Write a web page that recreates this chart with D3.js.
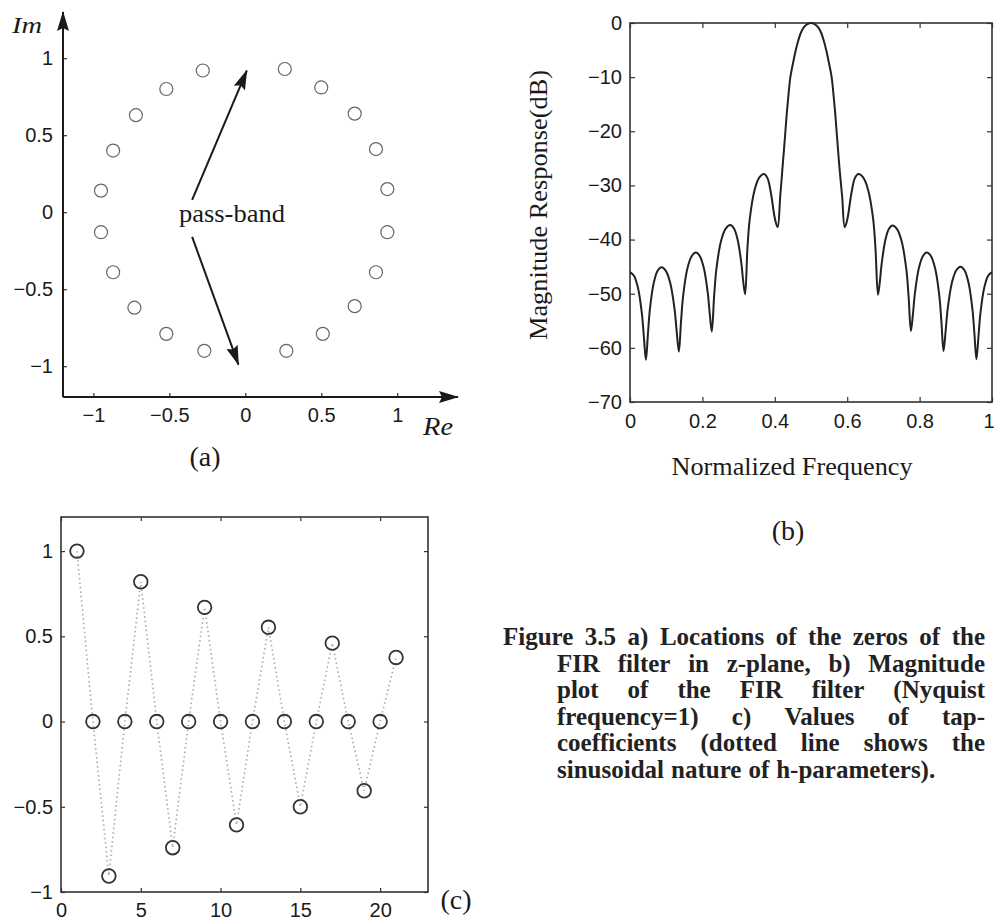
<!DOCTYPE html>
<html><head><meta charset="utf-8">
<script src="https://cdn.jsdelivr.net/npm/d3@7"></script>
<style>
html,body{margin:0;padding:0;background:#fff;}
svg{display:block;}
.tick text{font-family:"Liberation Sans",Arial,sans-serif;font-size:20px;fill:#1a1a1a;}
.tick line{stroke:#333;stroke-width:1.2;}
</style></head>
<body>
<svg id="fig" width="995" height="920"></svg>
<script>
// ---------- DATA ----------
// (a) zeros of the FIR filter in the z-plane
const zeroRe = [-0.28,-0.52,-0.72,-0.87,-0.95,-0.95,-0.87,-0.73,-0.52,-0.27,
                 0.26, 0.50, 0.72, 0.86, 0.935,0.935,0.86, 0.72, 0.51, 0.27];
const zeroIm = [ 0.92, 0.80, 0.63, 0.40, 0.14,-0.13,-0.39,-0.62,-0.79,-0.90,
                 0.93, 0.81, 0.64, 0.41, 0.15,-0.13,-0.39,-0.61,-0.79,-0.90];
const ticksA = [-1,-0.5,0,0.5,1];
// pass-band annotation arrows (data units): start -> tip
const arrowFromRe = [-0.35,-0.35];
const arrowFromIm = [0.08,-0.16];
const arrowToRe = [0.01,-0.045];
const arrowToIm = [0.92,-0.99];

// (b) magnitude response
const freq = [0.000,0.011,0.022,0.033,0.0385,0.044,0.0494,0.0548,0.0655,0.0763,0.087,
  0.099,0.111,0.123,0.129,0.135,0.1409,0.1468,0.1585,0.1703,0.182,
  0.193,0.204,0.215,0.2205,0.226,0.2324,0.2388,0.2515,0.2643,0.277,
  0.2873,0.2975,0.3078,0.3129,0.318,0.3245,0.331,0.344,0.357,0.370,
  0.3795,0.389,0.3985,0.403,0.408,0.415,0.421,0.427,0.433,0.4375,0.443,0.451,0.458,0.465,0.472,0.480,0.490,
  0.500,
  0.510,0.520,0.528,0.535,0.542,0.549,0.557,0.5625,0.567,0.573,0.579,0.586,0.593,
  0.598,0.6025,0.612,0.6215,0.631,0.6445,0.658,0.6715,0.678,0.685,
  0.690,0.695,0.705,0.715,0.725,0.7378,0.7505,0.7633,0.7696,0.776,
  0.7815,0.787,0.798,0.809,0.820,0.8315,0.843,0.8545,0.8603,0.866,
  0.8719,0.8778,0.8895,0.9013,0.913,0.924,0.935,0.946,0.9515,0.957,
  0.9624,0.9678,0.9785,0.9893,1.000];
const magDb = [-46.0,-46.67,-48.91,-53.78,-58.13,-62.2,-57.55,-52.98,-48.03,-45.77,-45.1,
  -45.77,-47.99,-52.80,-57.0,-60.7,-55.21,-50.39,-45.35,-43.07,-42.4,
  -43.07,-45.26,-49.95,-53.86,-57.0,-50.45,-45.38,-40.26,-37.97,-37.3,
  -37.95,-40.09,-44.49,-47.83,-50.1,-41.48,-36.10,-30.88,-28.57,-27.9,
  -28.6,-31.3,-35.5,-36.9,-37.7,-32.0,-27.0,-22.0,-16.8,-13.5,-10.0,-7.2,-5.0,-3.2,-1.8,-0.8,-0.2,
  0.0,
  -0.2,-0.8,-1.8,-3.2,-5.0,-7.2,-10.0,-13.5,-16.8,-22.0,-27.0,-32.0,-37.7,
  -36.9,-35.5,-31.3,-28.6,-27.9,-28.57,-30.88,-36.1,-41.5,-50.2,
  -47.9,-44.6,-40.2,-38.05,-37.4,-38.07,-40.36,-45.46,-50.5,-56.9,
  -53.85,-49.95,-45.26,-43.07,-42.4,-43.07,-45.35,-50.38,-55.2,-60.6,
  -56.9,-52.7,-47.89,-45.67,-45.0,-45.67,-47.93,-52.88,-57.45,-62.1,
  -58.1,-53.75,-48.9,-46.67,-46.0];
const xTicksB = [0,0.2,0.4,0.6,0.8,1];
const yTicksB = [0,-10,-20,-30,-40,-50,-60,-70];

// (c) tap coefficients
const tapIndex = [1,2,3,4,5,6,7,8,9,10,11,12,13,14,15,16,17,18,19,20,21];
const tapValue = [1.0,0,-0.906,0,0.82,0,-0.74,0,0.67,0,-0.606,0,0.553,0,-0.5,0,0.46,0,-0.406,0,0.376];
const xTicksC = [0,5,10,15,20];
const yTicksC = [-1,-0.5,0,0.5,1];

const captionLines = [
  "Figure 3.5 a) Locations of the zeros of the",
  "FIR filter in z-plane, b) Magnitude",
  "plot of the FIR filter (Nyquist",
  "frequency=1) c) Values of tap-",
  "coefficients (dotted line shows the",
  "sinusoidal nature of h-parameters)."
];

// ---------- DRAW ----------
const svg = d3.select("#fig");
const ink = "#1a1a1a";
const serif = '"Liberation Serif","Times New Roman",serif';
const fmt = v => (v < 0 ? "\u2212" : "") + Math.abs(v);

const defs = svg.append("defs");
defs.append("marker").attr("id","arr").attr("markerUnits","userSpaceOnUse")
  .attr("markerWidth",20).attr("markerHeight",12).attr("refX",19).attr("refY",6)
  .attr("orient","auto")
  .append("path").attr("d","M0,0 L20,6 L0,12 L3,6 Z").attr("fill",ink);

// ===== Panel (a) =====
const xa = d3.scaleLinear().domain([-1.2,1.4]).range([63,458]);
const ya = d3.scaleLinear().domain([-1.2,1.3]).range([397,12]);
const ga = svg.append("g");
ga.append("g").attr("transform",`translate(${xa(-1.2)},0)`)
  .call(d3.axisLeft(ya).tickValues(ticksA).tickFormat(fmt).tickSizeInner(-4).tickSizeOuter(0).tickPadding(10))
  .call(g=>g.select(".domain").remove());
ga.append("g").attr("transform",`translate(0,${ya(-1.2)})`)
  .call(d3.axisBottom(xa).tickValues(ticksA).tickFormat(fmt).tickSizeInner(-4).tickSizeOuter(0).tickPadding(11))
  .call(g=>g.select(".domain").remove());
// axes with arrows
ga.append("line").attr("x1",xa(-1.2)).attr("y1",ya(-1.2)).attr("x2",xa(-1.2)).attr("y2",ya(1.3))
  .attr("stroke",ink).attr("stroke-width",2).attr("marker-end","url(#arr)");
ga.append("line").attr("x1",xa(-1.2)).attr("y1",ya(-1.2)).attr("x2",xa(1.4)).attr("y2",ya(-1.2))
  .attr("stroke",ink).attr("stroke-width",2).attr("marker-end","url(#arr)");
// zeros
ga.selectAll("circle.z").data(zeroRe.map((r,i)=>[r,zeroIm[i]])).join("circle")
  .attr("class","z").attr("cx",d=>xa(d[0])).attr("cy",d=>ya(d[1])).attr("r",6.5)
  .attr("fill","none").attr("stroke","#666").attr("stroke-width",1.2);
// pass-band arrows
arrowFromRe.forEach((r,i)=>{
  ga.append("line").attr("x1",xa(r)).attr("y1",ya(arrowFromIm[i]))
    .attr("x2",xa(arrowToRe[i])).attr("y2",ya(arrowToIm[i]))
    .attr("stroke",ink).attr("stroke-width",2).attr("marker-end","url(#arr)");
});
ga.append("text").attr("x",xa(-0.088)).attr("y",ya(-0.064)).attr("text-anchor","middle")
  .attr("font-family",serif).attr("font-size",26).attr("fill",ink)
  .attr("textLength",106).attr("lengthAdjust","spacingAndGlyphs").text("pass-band");
ga.append("text").attr("x",12).attr("y",33).attr("font-family",serif).attr("font-style","italic")
  .attr("font-size",24).attr("fill",ink).attr("textLength",30).attr("lengthAdjust","spacingAndGlyphs").text("Im");
ga.append("text").attr("x",423).attr("y",435).attr("font-family",serif).attr("font-style","italic")
  .attr("font-size",26).attr("fill",ink).attr("textLength",30).attr("lengthAdjust","spacingAndGlyphs").text("Re");
ga.append("text").attr("x",205).attr("y",466).attr("text-anchor","middle").attr("font-family",serif)
  .attr("font-size",28).attr("fill",ink).text("(a)");

// ===== Panel (b) =====
const xb = d3.scaleLinear().domain([0,1]).range([630,992]);
const yb = d3.scaleLinear().domain([-70,0]).range([402,23]);
const gb = svg.append("g");
const noDom = g=>g.select(".domain").remove();
gb.append("g").attr("transform",`translate(${xb(0)},0)`)
  .call(d3.axisLeft(yb).tickValues(yTicksB).tickFormat(fmt).tickSizeInner(-5).tickSizeOuter(0).tickPadding(8)).call(noDom);
gb.append("g").attr("transform",`translate(${xb(1)},0)`)
  .call(d3.axisRight(yb).tickValues(yTicksB).tickFormat("").tickSizeInner(-5).tickSizeOuter(0)).call(noDom);
gb.append("g").attr("transform",`translate(0,${yb(-70)})`)
  .call(d3.axisBottom(xb).tickValues(xTicksB).tickFormat(fmt).tickSizeInner(-5).tickSizeOuter(0).tickPadding(12)).call(noDom)
  .call(g=>g.selectAll(".tick").filter(d=>d===1).select("text").attr("text-anchor","end").attr("dx","0.1em"));
gb.append("g").attr("transform",`translate(0,${yb(0)})`)
  .call(d3.axisTop(xb).tickValues(xTicksB).tickFormat("").tickSizeInner(-5).tickSizeOuter(0)).call(noDom);
gb.append("rect").attr("x",xb(0)).attr("y",yb(0)).attr("width",xb(1)-xb(0)).attr("height",yb(-70)-yb(0))
  .attr("fill","none").attr("stroke","#333").attr("stroke-width",1.6);
const lineB = d3.line().x(d=>xb(d[0])).y(d=>yb(d[1])).curve(d3.curveCatmullRom.alpha(0.5));
gb.append("path").datum(freq.map((f,i)=>[f,magDb[i]])).attr("d",lineB)
  .attr("fill","none").attr("stroke","#222").attr("stroke-width",2);
gb.append("text").attr("transform","translate(547,205) rotate(-90)").attr("text-anchor","middle")
  .attr("font-family",serif).attr("font-size",26).attr("fill",ink)
  .attr("textLength",270).attr("lengthAdjust","spacingAndGlyphs").text("Magnitude Response(dB)");
gb.append("text").attr("x",792).attr("y",475).attr("text-anchor","middle")
  .attr("font-family",serif).attr("font-size",26).attr("fill",ink)
  .attr("textLength",241).attr("lengthAdjust","spacingAndGlyphs").text("Normalized Frequency");
gb.append("text").attr("x",788).attr("y",540).attr("text-anchor","middle")
  .attr("font-family",serif).attr("font-size",28).attr("fill",ink).text("(b)");

// ===== Panel (c) =====
const xc = d3.scaleLinear().domain([0,23]).range([61,428]);
const yc = d3.scaleLinear().domain([-1,1.2]).range([892,517]);
const gc = svg.append("g");
gc.append("g").attr("transform",`translate(${xc(0)},0)`)
  .call(d3.axisLeft(yc).tickValues(yTicksC).tickFormat(fmt).tickSizeInner(-4).tickSizeOuter(0).tickPadding(8)).call(noDom);
gc.append("g").attr("transform",`translate(${xc(23)},0)`)
  .call(d3.axisRight(yc).tickValues(yTicksC).tickFormat("").tickSizeInner(-4).tickSizeOuter(0)).call(noDom);
gc.append("g").attr("transform",`translate(0,${yc(-1)})`)
  .call(d3.axisBottom(xc).tickValues(xTicksC).tickFormat(fmt).tickSizeInner(-4).tickSizeOuter(0).tickPadding(11)).call(noDom);
gc.append("g").attr("transform",`translate(0,${yc(1.2)})`)
  .call(d3.axisTop(xc).tickValues(xTicksC).tickFormat("").tickSizeInner(-4).tickSizeOuter(0)).call(noDom);
gc.append("rect").attr("x",xc(0)).attr("y",yc(1.2)).attr("width",xc(23)-xc(0)).attr("height",yc(-1)-yc(1.2))
  .attr("fill","none").attr("stroke","#333").attr("stroke-width",1.6);
const taps = tapIndex.map((n,i)=>[n,tapValue[i]]);
gc.append("path").datum(taps).attr("d",d3.line().x(d=>xc(d[0])).y(d=>yc(d[1])))
  .attr("fill","none").attr("stroke","#a8a8a8").attr("stroke-width",1.6).attr("stroke-dasharray","1.5,3");
gc.selectAll("circle.t").data(taps).join("circle").attr("class","t")
  .attr("cx",d=>xc(d[0])).attr("cy",d=>yc(d[1])).attr("r",6.8)
  .attr("fill","none").attr("stroke","#333").attr("stroke-width",1.8);
gc.append("text").attr("x",456).attr("y",909).attr("text-anchor","middle").attr("font-family",serif)
  .attr("font-size",28).attr("fill",ink).text("(c)");

// ===== Caption (justified) =====
const gcap = svg.append("g").attr("font-family",serif).attr("font-weight","bold")
  .attr("font-size",25).attr("fill","#222");
const lineStarts = [503,557,557,557,557,557];
const lineRight = 985;
captionLines.forEach((ln,i)=>{
  const y = 645 + i*26.5;
  const words = ln.split(" ");
  const nodes = words.map(w=>gcap.append("text").attr("y",y).text(w));
  const widths = nodes.map(n=>n.node().getComputedTextLength());
  const sum = d3.sum(widths);
  const last = i === captionLines.length-1;
  const gap = last ? 7 : (lineRight - lineStarts[i] - sum)/(words.length-1);
  let x = lineStarts[i];
  nodes.forEach((n,k)=>{ n.attr("x",x); x += widths[k] + gap; });
});
</script>
</body></html>
